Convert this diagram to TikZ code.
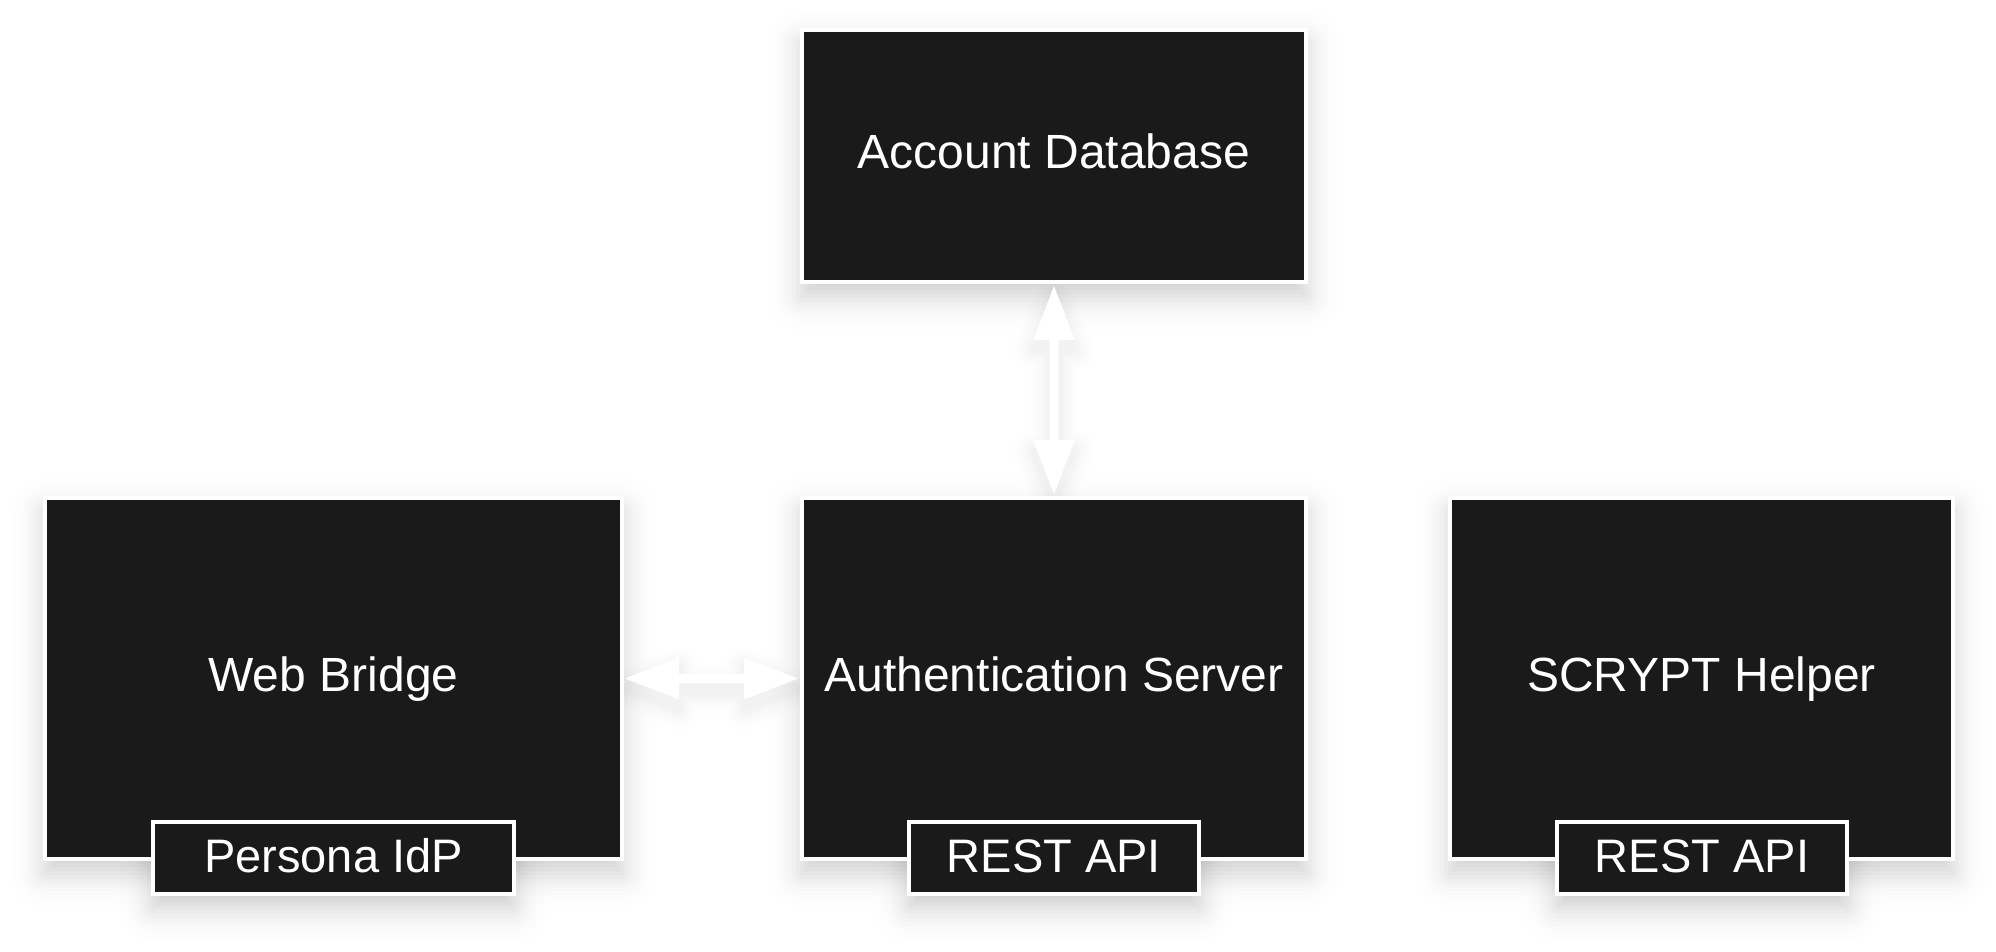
\documentclass[tikz,border=0pt]{standalone}
\usepackage{fontspec}
\setmainfont{Liberation Sans}
\usetikzlibrary{calc,backgrounds}
\definecolor{boxfill}{HTML}{1A1A1A}
\tikzset{
  blk/.style={rectangle,draw=white,line width=4pt,fill=boxfill,text=white,
    inner sep=0pt,outer sep=0pt,font=\fontsize{48}{58}\selectfont,
    text height=36pt,text depth=10pt},
  tabbox/.style={blk,font=\fontsize{47}{56}\selectfont,text height=36pt,text depth=7.5pt},
  arrowshape/.style={fill=white,draw=none},
}
% soft drop shadow of a rectangular node (gaussian-like, built from translucent layers)
\newcommand\boxshade[1]{%
  \foreach \ee/\aa in {-22/0.0078,-18/0.0106,-14/0.0136,-10/0.0164,-6/0.0186,-2/0.0198,
      2/0.0198,6/0.0186,10/0.0164,14/0.0136,18/0.0106,22/0.0078,26/0.0053,30/0.0034,
      34/0.0021,38/0.0012,42/0.0006}{%
    \pgfmathsetmacro\rr{max(\ee,0.01)}%
    \fill[black,opacity=\aa,rounded corners=\rr pt,transform canvas={yshift=-14pt}]
      ($(#1.south west)+(-\ee,\ee)$) rectangle ($(#1.north east)+(\ee,-\ee)$);}}
\newcommand\arrowshade[1]{%
  \foreach \ww/\cc in {40/0.4,34/0.8,28/1.4,22/2.2,16/3.2,10/4.2,4/5}{%
    \path[fill=black!\cc,draw=black!\cc,line width=\ww pt,line join=round,
      transform canvas={yshift=-10pt}] #1;}}
\newcommand\arrowwithshade[1]{%
  \begin{pgfonlayer}{background}\arrowshade{#1}\end{pgfonlayer}%
  \path[arrowshape] #1;}
\begin{document}
\begin{tikzpicture}[x=1pt,y=-1pt]
\path[use as bounding box] (0,0) rectangle (1996,952);
\begin{scope}[on background layer]
  \fill[white] (0,0) rectangle (1996,952);
\end{scope}

% main boxes
\node[blk,minimum width=504pt,minimum height=252pt] (acc) at (1054,156) {Account Database};
\node[blk,minimum width=577pt,minimum height=361pt] (wb) at (333.5,678.5) {Web Bridge};
\node[blk,minimum width=504pt,minimum height=361pt] (auth) at (1054,678.5) {Authentication Server};
\node[blk,minimum width=503pt,minimum height=361pt] (scr) at (1701.5,678.5) {SCRYPT Helper};

% tabs
\node[tabbox,minimum width=361pt,minimum height=72pt] (persona) at (333.5,858) {Persona IdP};
\node[tabbox,minimum width=290pt,minimum height=72pt] (rest1) at (1054,858) {REST API};
\node[tabbox,minimum width=290pt,minimum height=72pt] (rest2) at (1702,858) {REST API};

% connectors
\coordinate (hL) at ($(wb.east)+(3,0)$);
\coordinate (hR) at ($(auth.west)+(-4,0)$);
\coordinate (vT) at ($(acc.south)+(0,4)$);
\coordinate (vB) at ($(auth.north)+(0,-4)$);

\arrowwithshade{(hL) -- ++(54,-21) -- ++(0,16.5) -- ($(hR)+(-54,-4.5)$) -- ++(0,-16.5) -- (hR)
  -- ++(-54,21) -- ++(0,-16.5) -- ($(hL)+(54,4.5)$) -- ++(0,16.5) -- cycle}
\arrowwithshade{(vT) -- ++(21,54) -- ++(-16.5,0) -- ($(vB)+(4.5,-54)$) -- ++(16.5,0) -- (vB)
  -- ++(-21,-54) -- ++(16.5,0) -- ($(vT)+(-4.5,54)$) -- ++(-16.5,0) -- cycle}

% shadows of boxes and tabs
\begin{scope}[on background layer]
  \boxshade{acc}
  \boxshade{wb}
  \boxshade{auth}
  \boxshade{scr}
  \boxshade{persona}
  \boxshade{rest1}
  \boxshade{rest2}
\end{scope}
\end{tikzpicture}
\end{document}
